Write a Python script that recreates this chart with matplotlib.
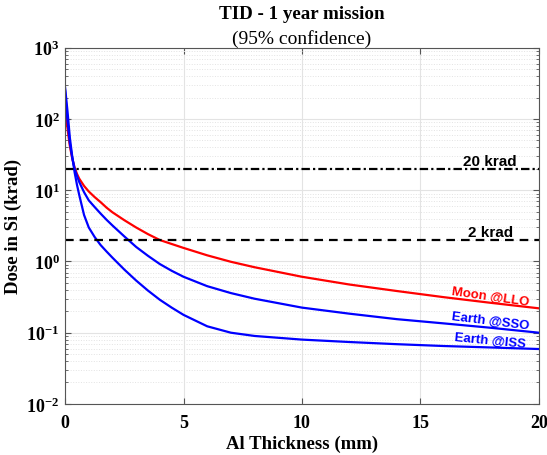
import numpy as np
import matplotlib
matplotlib.use("Agg")
import matplotlib.pyplot as plt
from matplotlib.ticker import LogLocator, NullFormatter, FuncFormatter

plt.rcParams["mathtext.fontset"] = "custom"
plt.rcParams["mathtext.rm"] = "Liberation Serif"
plt.rcParams["mathtext.bf"] = "Liberation Serif:bold"
plt.rcParams["axes.unicode_minus"] = False

# Al shielding thickness (mm)
thickness = [0, 0.05, 0.1, 0.15, 0.2, 0.3, 0.4, 0.5, 0.6, 0.8, 1, 1.25, 1.5,
             1.75, 2, 2.5, 3, 3.5, 4, 4.5, 5, 6, 7, 8, 10, 12, 14, 16, 18, 20]

# Dose in Si (krad), 1 year mission, 95% confidence
moon_llo = [144, 100, 75, 55, 42, 28, 21, 17, 14.5, 11.5, 9.6, 8.0, 6.8, 5.7,
            4.9, 3.8, 3.0, 2.42, 2.0, 1.76, 1.55, 1.22, 0.99, 0.83, 0.61,
            0.475, 0.385, 0.315, 0.262, 0.22]
earth_sso = [250, 150, 95, 66, 46, 29, 20, 16, 13, 9.4, 7.2, 5.8, 4.7, 3.85,
             3.2, 2.25, 1.6, 1.2, 0.92, 0.74, 0.61, 0.45, 0.36, 0.30, 0.225,
             0.185, 0.155, 0.135, 0.117, 0.10]
earth_iss = [275, 190, 130, 85, 55, 30, 18, 12, 8.5, 4.5, 3.0, 2.2, 1.7, 1.38,
             1.13, 0.77, 0.54, 0.39, 0.29, 0.225, 0.178, 0.123, 0.10, 0.09,
             0.080, 0.074, 0.069, 0.065, 0.062, 0.059]

limits = [20, 2]
limit_labels = ["20 krad", "2 krad"]

serif = "Liberation Serif"
sans = "Liberation Sans"

fig = plt.figure(figsize=(5.47, 4.56), dpi=100)
ax = fig.add_axes([0.119, 0.112, 0.866, 0.781])

ax.plot(thickness, moon_llo, color="red", lw=1.6)
ax.plot(thickness, earth_sso, color="blue", lw=1.6)
ax.plot(thickness, earth_iss, color="blue", lw=1.6)

ax.axhline(limits[0], color="black", lw=1.6, ls=(0, (3.8, 1.4, 1.0, 1.4)))
ax.axhline(limits[1], color="black", lw=1.6, ls=(0, (3.9, 2.7)))

ax.text(17.95, 25.7, limit_labels[0], fontfamily=sans, fontweight="bold",
        fontsize=11, ha="center", va="center")
ax.text(17.95, 2.62, limit_labels[1], fontfamily=sans, fontweight="bold",
        fontsize=11, ha="center", va="center")

ax.text(17.95, 0.32, "Moon @LLO", color="red", fontfamily=sans,
        fontweight="bold", fontsize=9.5, ha="center", va="center", rotation=-8)
ax.text(17.95, 0.146, "Earth @SSO", color="blue", fontfamily=sans,
        fontweight="bold", fontsize=9.5, ha="center", va="center", rotation=-7)
ax.text(17.95, 0.079, "Earth @ISS", color="blue", fontfamily=sans,
        fontweight="bold", fontsize=9.5, ha="center", va="center", rotation=-5.5)

ax.set_yscale("log")
ax.set_xlim(0, 20)
ax.set_ylim(1e-2, 1e3)
ax.set_xticks([0, 5, 10, 15, 20])
ax.yaxis.set_major_locator(LogLocator(base=10, numticks=10))
ax.yaxis.set_minor_locator(LogLocator(base=10, subs=np.arange(2, 10), numticks=10))
ax.yaxis.set_minor_formatter(NullFormatter())
ax.yaxis.set_major_formatter(
    FuncFormatter(lambda v, p: r"$\mathbf{10^{%d}}$" % round(np.log10(v))))

ax.grid(True, which="major", color="#e3e3e3", lw=0.8)
ax.grid(True, which="minor", axis="y", color="#e3e3e3", lw=0.7, ls=":")
ax.set_axisbelow(True)

ax.tick_params(which="both", direction="in", top=True, right=True,
               color="#555555")
ax.tick_params(which="major", length=4)
ax.tick_params(which="minor", length=2)
ax.tick_params(axis="x", pad=7)
ax.tick_params(axis="y", pad=4)
for s in ax.spines.values():
    s.set_color("#555555")

for lab in ax.get_xticklabels() + ax.get_yticklabels():
    lab.set_fontfamily(serif)
    lab.set_fontweight("bold")
    lab.set_fontsize(13)

ax.set_xlabel("Al Thickness (mm)", fontfamily=serif, fontweight="bold",
              fontsize=13.5, labelpad=3)
ax.set_ylabel("Dose in Si (krad)", fontfamily=serif, fontweight="bold",
              fontsize=13.5, labelpad=3)

fig.text(0.551, 0.969, "TID - 1 year mission", fontfamily=serif,
         fontweight="bold", fontsize=13.7, ha="center", va="center")
fig.text(0.551, 0.914, "(95% confidence)", fontfamily=serif,
         fontsize=14, ha="center", va="center")

fig.savefig("out.png", dpi=100)
